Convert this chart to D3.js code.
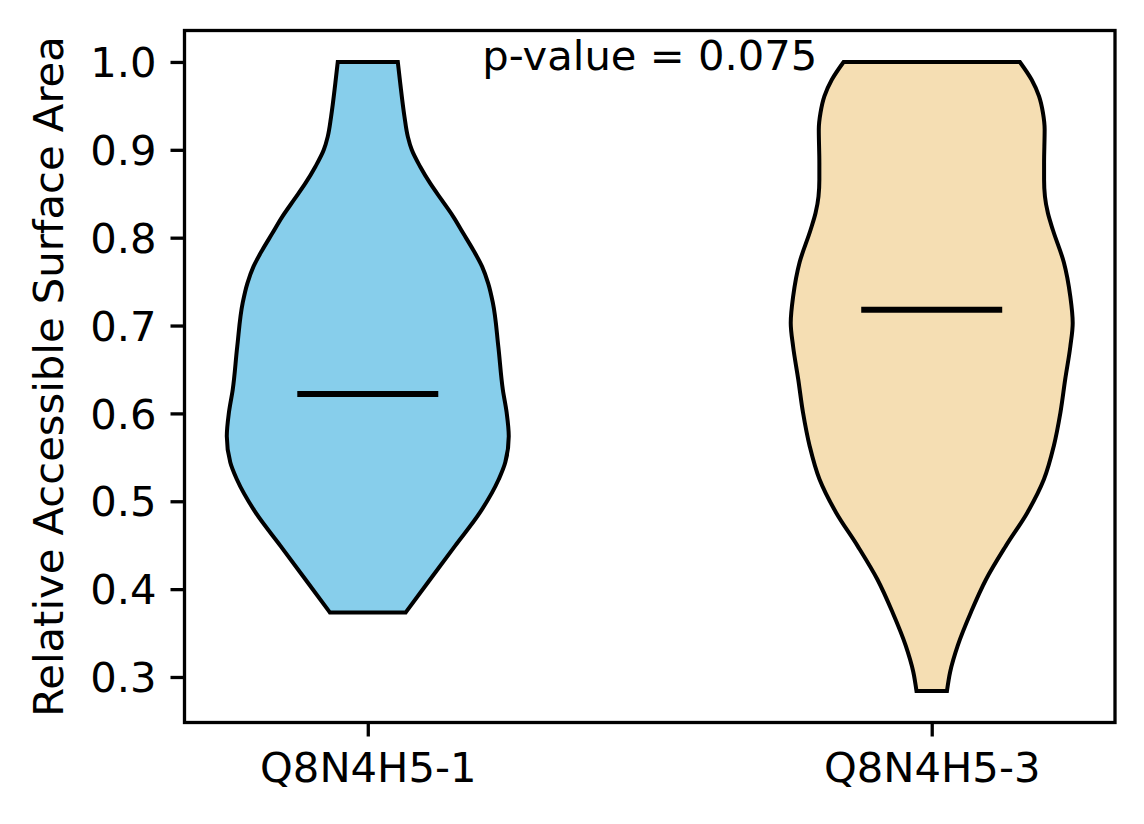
<!DOCTYPE html>
<html>
<head>
<meta charset="utf-8">
<script src="https://cdn.jsdelivr.net/npm/d3@7"></script>
<style>
  html, body { margin: 0; padding: 0; background: #fff; }
  svg { display: block; }
  text { font-family: "DejaVu Sans", sans-serif; fill: #000; }
</style>
</head>
<body>
<svg id="chart" width="1144" height="824"></svg>
<script>
// ---------- data ----------
const categories = ["Q8N4H5-1", "Q8N4H5-3"];
const positions = [1, 2];
const medians = [0.622, 0.718];
const pValueLabel = "p-value = 0.075";
const yTicks = [0.3, 0.4, 0.5, 0.6, 0.7, 0.8, 0.9, 1.0];

// violin outline: value (y) and relative density (1 = widest)
const violin1Values  = [1.0, 0.976, 0.938, 0.915, 0.9, 0.881, 0.862, 0.843, 0.824, 0.805, 0.786, 0.767, 0.748, 0.726, 0.676, 0.627, 0.601, 0.574, 0.544, 0.525, 0.487, 0.449, 0.411, 0.3735];
const violin1Density = [0.213, 0.230, 0.260, 0.284, 0.312, 0.371, 0.442, 0.524, 0.606, 0.677, 0.748, 0.811, 0.854, 0.887, 0.926, 0.958, 0.985, 1.0, 0.975, 0.929, 0.795, 0.618, 0.442, 0.269];

const violin2Values  = [1.0, 0.980, 0.961, 0.942, 0.923, 0.885, 0.866, 0.847, 0.828, 0.809, 0.772, 0.733, 0.703, 0.676, 0.639, 0.601, 0.563, 0.525, 0.487, 0.449, 0.411, 0.374, 0.336, 0.306, 0.284];
const violin2Density = [0.625, 0.708, 0.761, 0.789, 0.801, 0.797, 0.797, 0.803, 0.824, 0.859, 0.937, 0.983, 1.0, 0.983, 0.947, 0.913, 0.866, 0.796, 0.678, 0.525, 0.385, 0.279, 0.185, 0.131, 0.108];

const fills = ["#87CEEB", "#F5DEB3"];

// ---------- layout ----------
const W = 1144, H = 824;
const plot = { left: 184.5, right: 1115, top: 30.5, bottom: 722.5 };
const fontSize = 41.7;
const violinWidth = 0.5;

const svg = d3.select("#chart");

const allVals = violin1Values.concat(violin2Values);
const vmin = d3.min(allVals), vmax = d3.max(allVals);
const pad = (vmax - vmin) * 0.05;

const y = d3.scaleLinear().domain([vmin - pad, vmax + pad]).range([plot.bottom, plot.top]);
const xmin = 1 - violinWidth / 2, xmax = 2 + violinWidth / 2;
const xpad = (xmax - xmin) * 0.05;
const x = d3.scaleLinear().domain([xmin - xpad, xmax + xpad]).range([plot.left, plot.right]);

// ---------- violins ----------
const violins = [
  { values: violin1Values, density: violin1Density },
  { values: violin2Values, density: violin2Density }
];

violins.forEach((v, i) => {
  const pts = v.values.map((val, j) => ({ v: val, d: v.density[j] }));
  const pos = positions[i];
  const area = d3.area()
    .y(p => y(p.v))
    .x0(p => x(pos - p.d * violinWidth / 2))
    .x1(p => x(pos + p.d * violinWidth / 2))
    .curve(d3.curveMonotoneY);
  svg.append("path")
    .attr("d", area(pts))
    .attr("fill", fills[i])
    .attr("stroke", "#000")
    .attr("stroke-width", 4)
    .attr("stroke-linejoin", "miter");
  // median line
  svg.append("line")
    .attr("x1", x(pos - violinWidth / 4))
    .attr("x2", x(pos + violinWidth / 4))
    .attr("y1", y(medians[i]))
    .attr("y2", y(medians[i]))
    .attr("stroke", "#000")
    .attr("stroke-width", 6);
});

// ---------- axes ----------
const yAxis = d3.axisLeft(y).tickValues(yTicks).tickFormat(d3.format(".1f")).tickSize(14).tickPadding(14);
const gy = svg.append("g").attr("transform", `translate(${plot.left},0)`).call(yAxis);
const xAxis = d3.axisBottom(x).tickValues(positions).tickFormat((d, i) => categories[i]).tickSize(14).tickPadding(14);
const gx = svg.append("g").attr("transform", `translate(0,${plot.bottom})`).call(xAxis);

[gx, gy].forEach(g => {
  g.select(".domain").remove();
  g.selectAll(".tick line").attr("stroke", "#000").attr("stroke-width", 3.3);
  g.selectAll(".tick text").style("font-family", "DejaVu Sans").style("font-size", fontSize + "px").attr("fill", "#000");
});
gy.selectAll(".tick text").attr("dy", "0.35em");
gx.selectAll(".tick text").attr("dy", "0.76em");

// frame
svg.append("rect")
  .attr("x", plot.left).attr("y", plot.top)
  .attr("width", plot.right - plot.left).attr("height", plot.bottom - plot.top)
  .attr("fill", "none").attr("stroke", "#000").attr("stroke-width", 3.3);

// y label
svg.append("text")
  .attr("transform", `translate(63,${(plot.top + plot.bottom) / 2}) rotate(-90)`)
  .attr("text-anchor", "middle")
  .style("font-size", fontSize + "px")
  .text("Relative Accessible Surface Area");

// p-value annotation
svg.append("text")
  .attr("x", x(1.5)).attr("y", 70)
  .attr("text-anchor", "middle")
  .style("font-size", fontSize + "px")
  .text(pValueLabel);
</script>
</body>
</html>
